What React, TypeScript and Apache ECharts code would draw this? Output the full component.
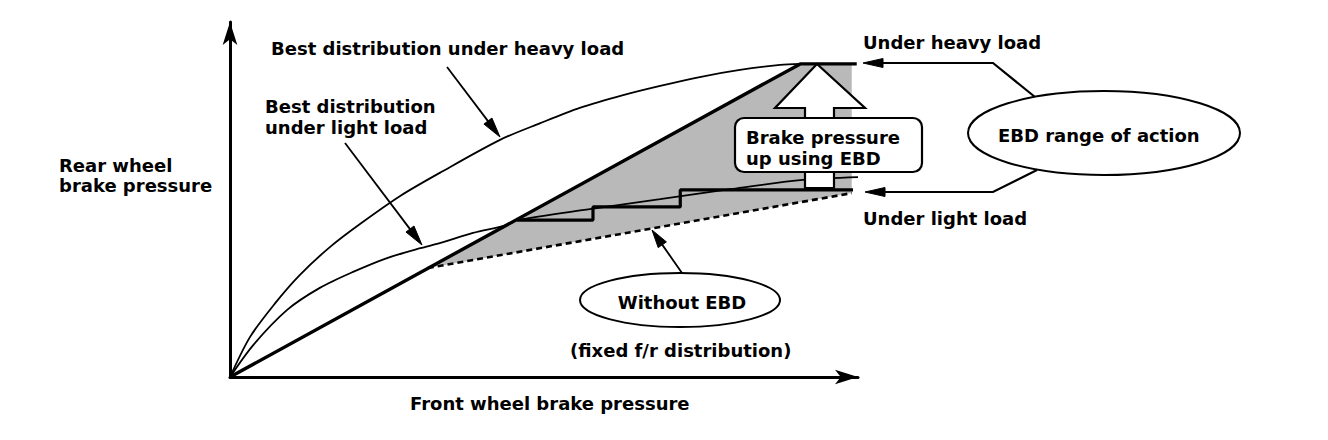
import React, { useEffect, useRef } from "react";
import * as echarts from "echarts";

// Best distribution under heavy load (thin curve)
const heavyX = [0, 3.2, 7.2, 11.1, 15.9, 20.7, 27.1, 33.4, 43.0, 49.4, 55.7, 62.6, 68.5, 74.8, 81.2, 87.6, 90.8];
const heavyY = [0, 11.3, 20.8, 28.7, 36.6, 43.1, 51.0, 57.5, 66.8, 71.5, 75.8, 79.4, 82.0, 84.5, 86.5, 87.9, 88.2];

// Best distribution under light load (thin curve)
const lightX = [0, 3.7, 9.1, 14.3, 19.6, 25.0, 30.3, 33.4, 38.7, 44.1, 45.7, 57.3, 68.5, 79.6, 91.2, 100.0];
const lightY = [0, 9.0, 18.9, 25.1, 29.6, 33.5, 36.3, 37.7, 40.6, 42.8, 44.2, 47.3, 50.1, 52.9, 55.5, 56.3];

// EBD control line under heavy load (thick, straight then flat)
const ebdHeavyX = [0, 90.8, 99.8];
const ebdHeavyY = [0, 88.2, 88.2];

// EBD stepped control under light load (thick staircase)
const ebdLightX = [45.7, 57.8, 57.8, 71.7, 71.7, 99.2];
const ebdLightY = [44.2, 44.2, 47.9, 47.9, 52.7, 52.7];

// Without EBD, fixed f/r distribution after the knee (dashed)
const fixedX = [31.5, 99.0];
const fixedY = [30.7, 51.8];

// EBD range of action (shaded area)
const shadeX = [31.5, 90.8, 99.0, 99.0, 31.5];
const shadeY = [30.7, 88.2, 88.2, 51.8, 30.7];

const FONT = '"DejaVu Sans", "Liberation Sans", sans-serif';

function pairs(xs: number[], ys: number[]) {
  return xs.map((x, i) => [x, ys[i]]);
}

function txt(text: string, x: number, y: number, align = "left", lineHeight = 21) {
  return {
    type: "text",
    x,
    y,
    z: 120,
    silent: true,
    style: {
      text,
      fill: "#000",
      fontFamily: FONT,
      fontWeight: "bold",
      fontSize: 18,
      lineHeight,
      align,
      textAlign: align,
      verticalAlign: "middle",
      textVerticalAlign: "middle",
    },
  };
}

function callout(pts: number[][], len: number, half: number, lw = 1.8) {
  const n = pts.length;
  const [x1, y1] = pts[n - 2];
  const [x2, y2] = pts[n - 1];
  const d = Math.hypot(x2 - x1, y2 - y1);
  const ux = (x2 - x1) / d;
  const uy = (y2 - y1) / d;
  const bx = x2 - ux * len;
  const by = y2 - uy * len;
  const head = [
    [x2, y2],
    [bx - uy * half, by + ux * half],
    [bx + uy * half, by - ux * half],
  ];
  const linePts = pts.slice(0, n - 1).concat([[bx + ux * 2, by + uy * 2]]);
  return [
    { type: "polyline", z: 110, silent: true, shape: { points: linePts }, style: { stroke: "#000", lineWidth: lw, fill: null } },
    { type: "polygon", z: 110, silent: true, shape: { points: head }, style: { fill: "#000", stroke: "#000", lineWidth: 1 } },
  ];
}

export default function App() {
  const ref = useRef<HTMLDivElement>(null);

  useEffect(() => {
    const chart = echarts.init(ref.current!, null, { renderer: "svg" });

    const axisCommon = {
      type: "value",
      min: 0,
      max: 100,
      axisTick: { show: false },
      axisLabel: { show: false },
      splitLine: { show: false },
      axisLine: {
        show: true,
        onZero: false,
        symbol: ["none", "arrow"],
        symbolSize: [11, 23],
        lineStyle: { color: "#000", width: 3 },
      },
    };

    const option: any = {
      animation: false,
      backgroundColor: "#fff",
      grid: { left: 230, top: 22, width: 628, height: 355 },
      xAxis: { ...axisCommon },
      yAxis: { ...axisCommon },
      series: [
        {
          type: "custom",
          name: "EBD range",
          silent: true,
          z: 1,
          data: pairs(shadeX, shadeY),
          renderItem: (params: any, api: any) => {
            if (params.dataIndex !== 0) return null;
            const pts = shadeX.map((x, i) => api.coord([x, shadeY[i]]));
            return { type: "polygon", shape: { points: pts }, style: { fill: "#b9b9b9" } };
          },
        },
        {
          type: "line",
          name: "Best distribution under heavy load",
          data: pairs(heavyX, heavyY),
          smooth: 0.3,
          symbol: "none",
          z: 3,
          lineStyle: { color: "#000", width: 1.8 },
        },
        {
          type: "line",
          name: "Best distribution under light load",
          data: pairs(lightX, lightY),
          smooth: 0.3,
          symbol: "none",
          z: 3,
          lineStyle: { color: "#000", width: 1.8 },
        },
        {
          type: "line",
          name: "Without EBD",
          data: pairs(fixedX, fixedY),
          symbol: "none",
          z: 3,
          lineStyle: { color: "#000", width: 2.6, type: [6, 4] },
        },
        {
          type: "line",
          name: "EBD under light load",
          data: pairs(ebdLightX, ebdLightY),
          symbol: "none",
          z: 4,
          lineStyle: { color: "#000", width: 3.2 },
        },
        {
          type: "line",
          name: "EBD under heavy load",
          data: pairs(ebdHeavyX, ebdHeavyY),
          symbol: "none",
          z: 4,
          lineStyle: { color: "#000", width: 3.4 },
        },
      ],
      graphic: [
        // big hollow arrow "brake pressure up"
        {
          type: "polygon",
          z: 100,
          silent: true,
          shape: {
            points: [
              [817, 64],
              [865, 108],
              [834, 108],
              [834, 188],
              [805, 188],
              [805, 108],
              [775, 108],
            ],
          },
          style: { fill: "#fff", stroke: "#000", lineWidth: 2.2 },
        },
        {
          type: "rect",
          z: 105,
          silent: true,
          shape: { x: 735, y: 118, width: 187, height: 54, r: 9 },
          style: { fill: "#fff", stroke: "#000", lineWidth: 2.2 },
        },
        txt("Brake pressure\nup using EBD", 746, 148),
        // ellipses
        {
          type: "ellipse",
          z: 105,
          silent: true,
          shape: { cx: 680, cy: 300, rx: 100, ry: 27 },
          style: { fill: "#fff", stroke: "#000", lineWidth: 2 },
        },
        {
          type: "ellipse",
          z: 105,
          silent: true,
          shape: { cx: 1104, cy: 133, rx: 136, ry: 42 },
          style: { fill: "#fff", stroke: "#000", lineWidth: 2 },
        },
        // callouts
        ...callout([[447, 67], [500, 137]], 20, 5),
        ...callout([[345, 143], [422, 245]], 20, 5),
        ...callout([[682, 273], [652, 230]], 18, 5),
        ...callout([[1035, 97], [993, 63], [863, 63]], 20, 4.5, 2.2),
        ...callout([[1037, 170], [993, 192], [865, 192]], 20, 4.5, 2.2),
        // texts
        txt("Best distribution under heavy load", 271, 48),
        txt("Best distribution\nunder light load", 265, 117),
        txt("Rear wheel\nbrake pressure", 59, 175, "left", 20),
        txt("Front wheel brake pressure", 410, 403),
        txt("Without EBD", 682, 302, "center"),
        txt("(fixed f/r distribution)", 570, 350),
        txt("Under heavy load", 863, 42),
        txt("Under light load", 863, 218),
        txt("EBD range of action", 998, 135),
      ],
    };

    chart.setOption(option);
    return () => chart.dispose();
  }, []);

  return (
    <div
      ref={ref}
      style={{ position: "fixed", left: 0, top: 0, width: 1328, height: 440, background: "#fff" }}
    />
  );
}
